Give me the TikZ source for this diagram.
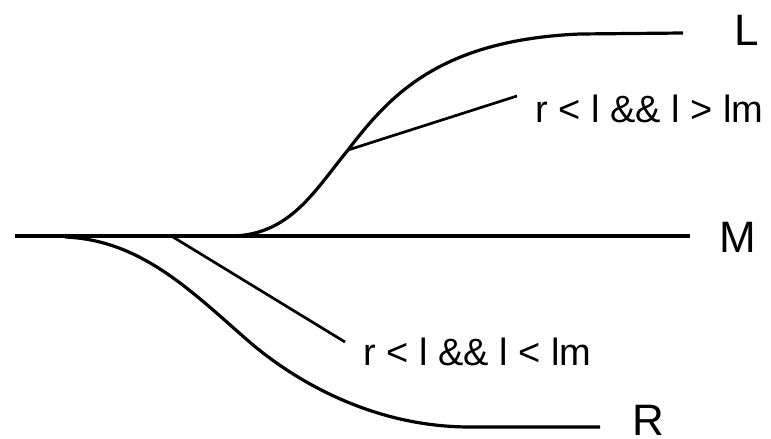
\documentclass[tikz,border=0pt]{standalone}
\usepackage{fontspec}
\setmainfont{Liberation Sans}
\begin{document}
\begin{tikzpicture}[x=1pt,y=-1pt,
  curve/.style={line width=3.2pt},
  branch/.style={line width=2.7pt},
  lbl/.style={inner sep=0pt,anchor=base west,font=\fontsize{44}{48}\selectfont},
  cond/.style={inner sep=0pt,anchor=base west,font=\fontsize{38}{42}\selectfont}]
\useasboundingbox (0,0) rectangle (771,439);
% labels
\node[lbl] (L) at (734,45) {L};
\node[lbl] (M) at (719,252) {M};
\node[lbl] (R) at (632,435) {R};
\node[cond] (cu) at (535,122) {r < l \&\& l > lm};
\node[cond] (cl) at (363,365) {r < l \&\& l < lm};
% coordinates
\coordinate (m0) at (15,236);
\coordinate (m1) at (690,236);
\coordinate (ls) at (230,236);
\coordinate (lj) at (348,150);
\coordinate (lf) at (580,34);
\coordinate (le) at (683,33);
\coordinate (ue) at (517,96);
\coordinate (rs) at (65,237);
\coordinate (ri) at (245,338);
\coordinate (rf) at (470,427);
\coordinate (re) at (600,427);
\coordinate (bs) at (173,237);
\coordinate (be) at (345,342);
% main line
\draw[curve] (m0) -- (m1);
% L curve
\draw[curve] (ls) .. controls (290,236) and (315,190) .. (lj)
  .. controls (390,95) and (440,40) .. (lf) -- (le);
% R curve
\draw[curve] (rs) .. controls (140,240) and (190,290) .. (ri)
  .. controls (290,378) and (370,427) .. (rf) -- (re);
% branches
\draw[branch] (lj) -- (ue);
\draw[branch] (bs) -- (be);
\end{tikzpicture}
\end{document}
